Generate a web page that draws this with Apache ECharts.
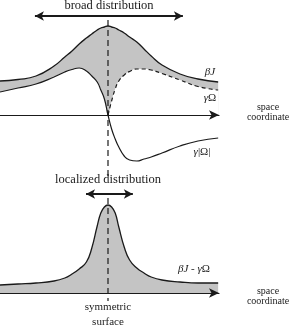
<!DOCTYPE html>
<html><head><meta charset="utf-8">
<script src="https://cdn.jsdelivr.net/npm/echarts@6/dist/echarts.min.js"></script>
<style>html,body{margin:0;padding:0;background:#fff}#c{width:291px;height:335px}</style>
</head><body><div id="c"></div>
<script>
// ---- data ----
const xs = [-3,-2.5,-2,-1.5,-1.2,-1,-0.8,-0.6,-0.45,-0.3,-0.2,-0.1,0,0.1,0.2,0.3,0.45,0.6,0.8,1,1.2,1.5,2,2.5,3.06];
const betaJ = [3.4,3.55,3.9,4.9,5.8,6.4,7.1,7.7,8.1,8.5,8.7,8.8,8.9,8.8,8.7,8.5,8.2,7.8,7.3,6.6,5.9,5.0,4.1,3.6,3.3];
const gammaOmega = [2.3,2.7,3.1,3.8,4.3,4.55,4.7,4.4,3.9,3.3,2.5,1.6,0,-1.4,-2.4,-3.2,-4.1,-4.5,-4.6,-4.4,-4.2,-3.8,-3.1,-2.6,-2.3];
const xsRight = [0,0.1,0.2,0.3,0.45,0.6,0.8,1,1.2,1.5,2,2.5,3.06];
const gammaOmegaMirror = [0,1.4,2.6,3.4,4.0,4.35,4.6,4.6,4.5,4.15,3.5,2.85,2.5];
const difference = [0.8,0.9,1.0,1.2,1.5,1.9,2.4,3.1,4.5,6.7,8.0,8.6,8.8,8.6,8.0,6.6,4.6,3.3,2.5,2.0,1.6,1.3,1.1,1.0,1.0];
const broadArrow = [[-2.03, 9.9], [2.08, 9.9]];
const localArrow = [[-0.61, 9.9], [0.69, 9.9]];
const topSymmetryLine = [[0, 9.5], [0, -6.1]];
const bottomSymmetryLine = [[0, 9.5], [0, -0.8]];

// ---- derived ----
const lowerBound = xs.map((x, i) => x < 0 ? gammaOmega[i] : gammaOmegaMirror[xsRight.indexOf(x)]);
const pairs = (a, b) => a.map((x, i) => [x, b[i]]);

const INK = '#1a1a1a', GREY = '#c4c4c4', FONT = 'Liberation Serif';
const chart = echarts.init(document.getElementById('c'), null, {renderer: 'canvas'});

const hiddenY = (g, min, max) => ({gridIndex: g, type: 'value', min, max, show: false});
const xAx = g => ({
  gridIndex: g, type: 'value', min: -3, max: 3.0833, z: 10,
  axisLine: {onZero: true, lineStyle: {color: INK, width: 1.2}, symbol: ['none', 'arrow'], symbolSize: [7, 10]},
  axisTick: {show: false}, axisLabel: {show: false}, splitLine: {show: false}
});
const arrowLine = (pts) => ({
  silent: true, symbol: ['arrow', 'arrow'], symbolSize: [7, 9],
  label: {show: false}, lineStyle: {color: INK, width: 2, type: 'solid'},
  data: [[{coord: pts[0]}, {coord: pts[1]}]]
});

const txt = (x, y, text, size, extra) => ({
  type: 'text', x, y, silent: true, z: 20,
  style: Object.assign({text, fill: INK, font: size + 'px "' + FONT + '"', textAlign: 'center', textVerticalAlign: 'middle'}, extra || {})
});
const richStyle = {
  i: {fontFamily: FONT, fontStyle: 'italic', fontSize: 11, color: INK},
  r: {fontFamily: FONT, fontSize: 11, color: INK}
};

chart.setOption({
  animation: false,
  grid: [
    {left: 0, top: 10, width: 219, height: 170},
    {left: 0, top: 188, width: 219, height: 115}
  ],
  xAxis: [xAx(0), xAx(1)],
  yAxis: [hiddenY(0, -6.5, 10.5), hiddenY(1, -1, 10.5)],
  series: [
    // grey area under βJ
    {type: 'line', xAxisIndex: 0, yAxisIndex: 0, smooth: 0.5, symbol: 'none', z: 2,
     lineStyle: {color: INK, width: 1.3}, areaStyle: {color: GREY, opacity: 1, origin: 0},
     data: pairs(xs, betaJ), markLine: arrowLine(broadArrow)},
    // white area under the lower boundary (leaves the band between βJ and |γΩ|)
    {type: 'line', xAxisIndex: 0, yAxisIndex: 0, smooth: 0.5, symbol: 'none', z: 3,
     lineStyle: {opacity: 0}, areaStyle: {color: '#ffffff', opacity: 1, origin: 0},
     data: pairs(xs, lowerBound)},
    {type: 'line', xAxisIndex: 0, yAxisIndex: 0, smooth: 0.5, symbol: 'none', z: 4,
     lineStyle: {color: INK, width: 1.2}, data: pairs(xs, gammaOmega)},
    {type: 'line', xAxisIndex: 0, yAxisIndex: 0, smooth: 0.5, symbol: 'none', z: 4,
     lineStyle: {color: INK, width: 1.2, type: [4, 3]}, data: pairs(xsRight, gammaOmegaMirror)},
    {type: 'line', xAxisIndex: 0, yAxisIndex: 0, symbol: 'none', z: 5,
     lineStyle: {color: INK, width: 1.2, type: [6, 4]}, data: topSymmetryLine},
    {type: 'line', xAxisIndex: 1, yAxisIndex: 1, smooth: 0.5, symbol: 'none', z: 2,
     lineStyle: {color: INK, width: 1.3}, areaStyle: {color: GREY, opacity: 1, origin: 0},
     data: pairs(xs, difference), markLine: arrowLine(localArrow)},
    {type: 'line', xAxisIndex: 1, yAxisIndex: 1, symbol: 'none', z: 5,
     lineStyle: {color: INK, width: 1.2, type: [6, 4]}, data: bottomSymmetryLine}
  ],
  graphic: [
    txt(109, 6, 'broad distribution', 12.5),
    txt(210, 72, '{i|βJ}', 11, {rich: richStyle}),
    txt(210, 98, '{i|γ}{r|Ω}', 11, {rich: richStyle}),
    txt(202, 152, '{i|γ}{r||Ω|}', 11, {rich: richStyle}),
    txt(268, 107, 'space', 10),
    txt(268, 117, 'coordinate', 10),
    txt(108, 180, 'localized distribution', 12.5),
    txt(194, 269, '{i|βJ}{r| - }{i|γ}{r|Ω}', 11, {rich: richStyle}),
    txt(268, 291, 'space', 10),
    txt(268, 301, 'coordinate', 10),
    txt(108, 307, 'symmetric', 11),
    txt(108, 322, 'surface', 11)
  ]
});
</script></body></html>
